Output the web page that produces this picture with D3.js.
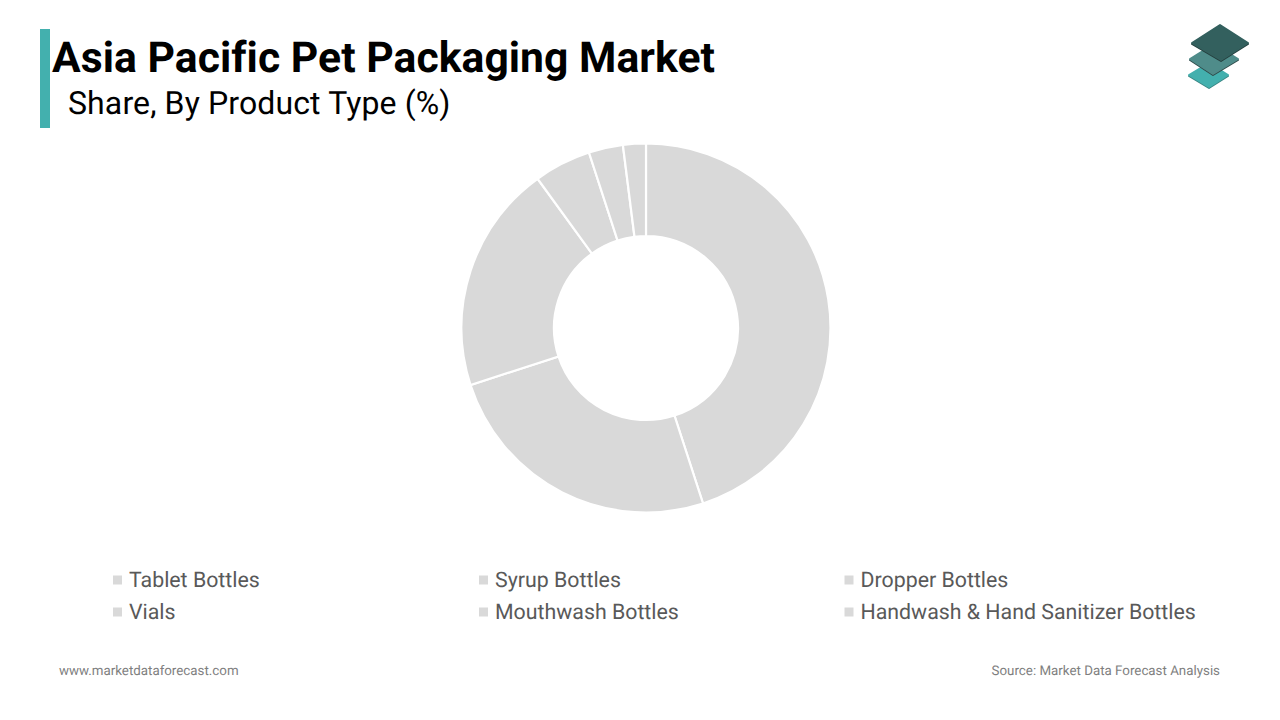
<!DOCTYPE html>
<html>
<head>
<meta charset="utf-8">
<script src="https://cdn.jsdelivr.net/npm/d3@7"></script>
<style>
  html, body { margin: 0; padding: 0; background: #fff; }
  text { font-family: Roboto, sans-serif; font-variant-ligatures: none; text-rendering: geometricPrecision; }
</style>
</head>
<body>
<svg id="chart" width="1280" height="720"></svg>
<script>
// Values
var categories = ["Tablet Bottles", "Syrup Bottles", "Dropper Bottles", "Vials", "Mouthwash Bottles", "Handwash & Hand Sanitizer Bottles"];
var shares = [45, 25, 20, 5, 3, 2];

var svg = d3.select("#chart");

// Title block
svg.append("rect").attr("x", 40).attr("y", 29).attr("width", 10).attr("height", 99).attr("fill", "#43b0ae");
svg.append("text").attr("x", 52).attr("y", 72).attr("font-size", 42.67).attr("font-weight", 700).attr("letter-spacing", 0.04).attr("fill", "#000")
  .text("Asia Pacific Pet Packaging Market");
svg.append("text").attr("x", 68).attr("y", 114).attr("font-size", 32).attr("letter-spacing", 0.12).attr("fill", "#000")
  .text("Share, By Product Type (%)");

// Logo, bottom layer first, each with a thin dark edge underneath
var logo = svg.append("g").attr("stroke-linejoin", "round").attr("stroke-width", 2);
[
  { points: "1209,63 1228,75 1209,87 1189,75", fill: "#43b0ae", edge: "#3a8583" },
  { points: "1214,44 1238,59 1213,74 1190,59", fill: "#4f8c8a", edge: "#2f4a49" },
  { points: "1220,25 1248,43 1221,60 1192,43", fill: "#33605e", edge: "#243f3e" }
].forEach((layer) => {
  logo.append("polygon").attr("points", layer.points).attr("transform", "translate(0,1)")
    .attr("fill", layer.edge).attr("stroke", layer.edge);
  logo.append("polygon").attr("points", layer.points).attr("fill", layer.fill).attr("stroke", layer.fill);
});

// Donut
var pie = d3.pie().sort(null).value((d) => d);
var arc = d3.arc().innerRadius(92).outerRadius(184.5);

svg.append("g")
  .attr("transform", "translate(646,328)")
  .selectAll("path")
  .data(pie(shares))
  .join("path")
  .attr("d", arc)
  .attr("fill", "#d9d9d9")
  .attr("stroke", "#fff")
  .attr("stroke-width", 2.2);

// Legend, three columns over two rows
var legendX = d3.scaleOrdinal().domain([0, 1, 2]).range([113, 479, 844.5]);
var legendY = d3.scaleOrdinal().domain([0, 1]).range([580, 612]);

var legend = svg.append("g")
  .selectAll("g")
  .data(categories)
  .join("g")
  .attr("transform", (d, i) => `translate(${legendX(i % 3)},${legendY(Math.floor(i / 3))})`);

legend.append("rect").attr("x", 0).attr("y", -4.5).attr("width", 9).attr("height", 9).attr("fill", "#d9d9d9");
legend.append("text").attr("x", 16).attr("y", 7).attr("font-size", 21.33).attr("fill", "#595959").text((d) => d);

// Footer
svg.append("text").attr("x", 59).attr("y", 675).attr("font-size", 13.33).attr("fill", "#7f7f7f")
  .text("www.marketdataforecast.com");
svg.append("text").attr("x", 1220).attr("y", 675).attr("font-size", 13.33).attr("fill", "#7f7f7f").attr("text-anchor", "end")
  .text("Source: Market Data Forecast Analysis");
</script>
</body>
</html>
